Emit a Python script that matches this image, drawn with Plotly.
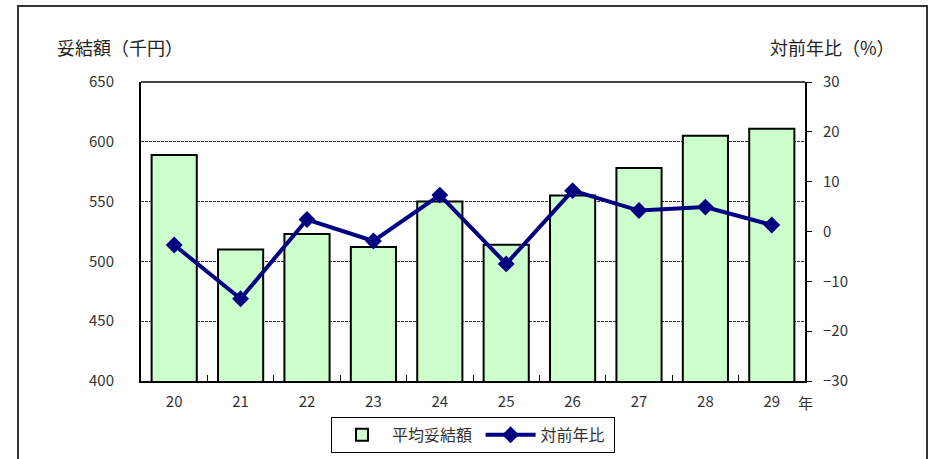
import plotly.graph_objects as go

years = ["20", "21", "22", "23", "24", "25", "26", "27", "28", "29"]
avg_amount = [589, 510, 523, 512, 550, 514, 555, 578, 605, 611]
yoy_change = [-2.7, -13.5, 2.4, -1.9, 7.3, -6.5, 8.2, 4.2, 4.9, 1.3]
left_ticks = [400, 450, 500, 550, 600, 650]
right_ticks = [-30, -20, -10, 0, 10, 20, 30]

FONT = "Noto Sans CJK JP"

fig = go.Figure()
fig.add_trace(go.Bar(
    x=years, y=avg_amount, name="平均妥結額 ",
    marker=dict(color="#ccffcc", line=dict(color="black", width=2)),
    yaxis="y",
))
fig.add_trace(go.Scatter(
    x=years, y=yoy_change, name="対前年比 ", mode="lines+markers",
    line=dict(color="#000080", width=4),
    marker=dict(symbol="diamond", size=13, color="#000080"),
    yaxis="y2",
))

fig.update_layout(
    width=933, height=459,
    margin=dict(l=141, r=128, t=82, b=78, autoexpand=False),
    paper_bgcolor="white", plot_bgcolor="white",
    font=dict(family=FONT, size=15, color="#333"),
    bargap=0.32,
    showlegend=True,
    legend=dict(
        orientation="h", x=0.5, xanchor="center", y=-0.12, yanchor="top",
        bordercolor="black", borderwidth=1, font=dict(size=16, color="#333"),
        itemwidth=50, tracegroupgap=0,
    ),
    xaxis=dict(
        type="category", range=[-0.5, len(years) - 0.5],
        showline=True, linecolor="black", linewidth=2,
        mirror=False, ticks="inside", tickson="boundaries", ticklen=6,
        tickcolor="black", tickfont=dict(size=15, color="#333"),
        showgrid=False, ticklabelstandoff=6,
    ),
    yaxis=dict(
        range=[400, 650], tickvals=left_ticks, showline=True, linecolor="black",
        linewidth=2, ticks="", showgrid=True, gridcolor="#333", gridwidth=1,
        griddash="3px,1px", tickfont=dict(size=15, color="#333"),
        ticklabelstandoff=22, zeroline=False,
    ),
    yaxis2=dict(
        range=[-30, 30], tickvals=right_ticks, overlaying="y", side="right",
        showline=True, linecolor="black", linewidth=2, ticks="outside",
        ticklen=5, tickcolor="black", showgrid=False, zeroline=False,
        tickfont=dict(size=15, color="#333"), ticklabelstandoff=8,
    ),
    shapes=[
        dict(type="line", xref="paper", yref="paper", x0=0, x1=1, y0=1, y1=1,
             line=dict(color="#444", width=2)),
        dict(type="rect", xref="paper", yref="paper",
             x0=(18 - 141) / 664, x1=(927 - 141) / 664,
             y0=-0.4, y1=(381 - 6) / 299,
             line=dict(color="#333", width=2), layer="below"),
    ],
    annotations=[
        dict(text="妥結額（千円）", xref="paper", yref="paper",
             x=(55 - 141) / 664, y=(381 - 47) / 299, xanchor="left", yanchor="middle",
             showarrow=False, font=dict(size=18, color="#222")),
        dict(text="対前年比（%）", xref="paper", yref="paper",
             x=(897 - 141) / 664, y=(381 - 47) / 299, xanchor="right", yanchor="middle",
             showarrow=False, font=dict(size=18, color="#222")),
        dict(text="年", xref="paper", yref="paper",
             x=(796 - 141) / 664, y=(381 - 402) / 299, xanchor="left", yanchor="middle",
             showarrow=False, font=dict(size=15, color="#333")),
    ],
)

fig.write_html("out.html", config={"displayModeBar": False},
               post_script="document.body.style.margin='0px';")
